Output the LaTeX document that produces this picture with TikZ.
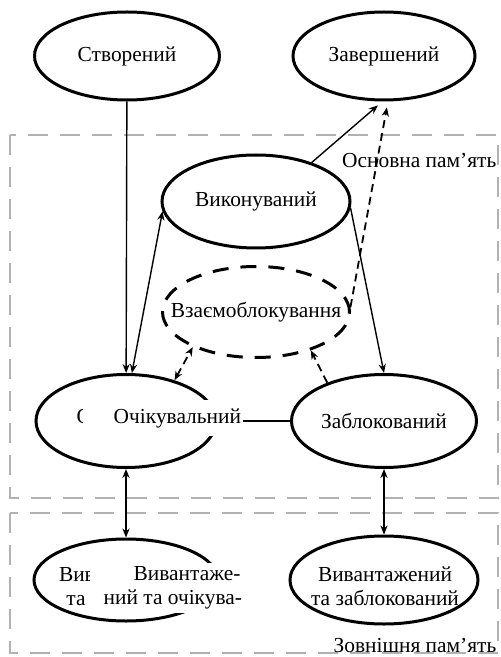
\documentclass[tikz,border=0pt]{standalone}
\usepackage{fontspec}
\setmainfont{Liberation Serif}
\usetikzlibrary{shapes,arrows.meta}
\tikzset{ell/.style={ellipse,draw,line width=1.5pt,inner xsep=-12pt,inner ysep=0pt,align=center}}
\tikzset{dell/.style={ell,dash pattern=on 8pt off 6pt}}
\tikzset{mem/.style={draw=black!30,line width=1pt,dash pattern=on 10pt off 6pt}}
\tikzset{cover/.style={fill=white,inner sep=1pt}}
\tikzset{dsh/.style={line width=0.9pt,dash pattern=on 4pt off 2.5pt}}

\begin{document}
\begin{tikzpicture}[x=0.5pt,y=-0.5pt,>={Stealth[length=4.5pt,width=3.6pt]},line width=0.7pt,
    font=\fontsize{10.7}{12}\selectfont]
    \useasboundingbox (0,0) rectangle (500,657);
    % memory regions
    \draw[mem] (10,135) rectangle (498,498);
    \draw[mem] (10,513) rectangle (498,653);
    \node[anchor=east,inner sep=0pt] (ram) at (497,160) {Основна пам’ять};
    \node[anchor=east,inner sep=0pt] (swap) at (497,645) {Зовнішня пам’ять};

    \node[ell,minimum width=92.5pt,minimum height=44pt] (created) at (127,56) {Створений};
    \node[ell,minimum width=91pt,minimum height=44pt] (finished) at (384,56) {Завершений};
    \node[ell,minimum width=94pt,minimum height=46.5pt] (running) at (256,201.5) {Виконуваний};
    \node[dell,minimum width=93.5pt,minimum height=45.5pt] (deadlock) at (256,312) {Взаємоблокування};
    \node[ell,minimum width=90pt,minimum height=46.5pt] (waiting) at (126,421) {};
    \node[ell,minimum width=92.5pt,minimum height=46.5pt] (blocked) at (384,421) {Заблокований};
    \node[ell,minimum width=92pt,minimum height=41pt] (swwait) at (126,580) {};
    \node[ell,minimum width=94pt,minimum height=44pt] (swblock) at (384,580) {};
    \node[align=center,inner sep=0pt] (swblocktxt) at (385,586) {Вивантажений\\та заблокований};

    \draw[->] (created) -- (waiting);
    \draw[<->] (running.186) -- (waiting.83);
    \draw[->,shorten >=3pt] (running.35) -- (finished.268);
    \draw[->,dsh,shorten >=3pt] (deadlock.3) -- (finished.275);
    \draw[->] (running.356) -- (blocked.north);
    \draw[<->,dsh] (waiting.40) -- (deadlock.209);
    \draw[->,dsh] (blocked.146) -- (deadlock.325);
    \draw[<->] (waiting) -- (swwait);
    \draw[<->] (blocked) -- (swblock);
    \draw (waiting) -- (blocked);

    % text boxes laid over the ellipses
    \node[anchor=west,inner sep=0pt] (waittxt) at (76,418) {Очікувальний};
    \node[cover,text width=78pt,align=right,minimum height=18pt] (waitcov) at (163,418) {Очікувальний};
    \node[align=center,inner sep=0pt] (swwaittxt) at (126,588) {Вивантажений\\та очікуваль-};
    \node[cover,anchor=west,inner xsep=7pt,inner ysep=2pt,align=left] (swcov) at (89,588)
        {\hspace*{15pt}Вивантаже-\\ний та очікува-};
\end{tikzpicture}
\end{document}
